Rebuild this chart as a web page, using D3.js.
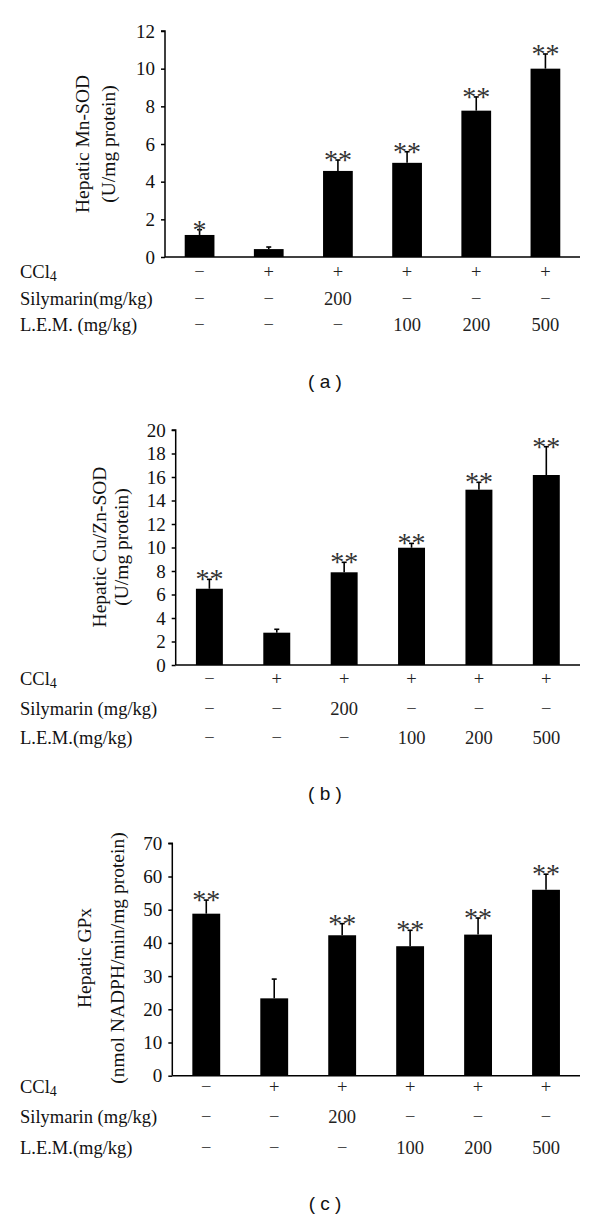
<!DOCTYPE html>
<html>
<head>
<meta charset="utf-8">
<script src="https://cdn.jsdelivr.net/npm/d3@7/dist/d3.min.js"></script>
<style>
  html, body { margin: 0; padding: 0; background: #fff; }
  svg { display: block; }
  .serif { font-family: "Liberation Serif", "Times New Roman", serif; }
</style>
</head>
<body>
<svg id="chart" width="600" height="1219"></svg>
<script>
// ---------------- data ----------------
const groups = ["G1", "G2", "G3", "G4", "G5", "G6"];
const ccl4Row = ["−", "+", "+", "+", "+", "+"];
const silymarinRow = ["−", "−", "200", "−", "−", "−"];
const lemRow = ["−", "−", "−", "100", "200", "500"];

const mnSOD = [1.17, 0.42, 4.57, 5.0, 7.77, 10.0];
const mnSODErr = [0.28, 0.11, 0.58, 0.59, 0.73, 0.78];
const mnSODSig = ["*", "", "**", "**", "**", "**"];
const mnTicks = [0, 2, 4, 6, 8, 10, 12];

const cuZnSOD = [6.49, 2.75, 7.89, 9.98, 14.92, 16.17];
const cuZnSODErr = [0.8, 0.29, 0.85, 0.37, 0.63, 2.41];
const cuZnSODSig = ["**", "", "**", "**", "**", "**"];
const cuTicks = [0, 2, 4, 6, 8, 10, 12, 14, 16, 18, 20];

const gpx = [48.8, 23.3, 42.3, 39.0, 42.5, 56.0];
const gpxErr = [4.1, 5.8, 3.5, 4.8, 5.0, 4.7];
const gpxSig = ["**", "", "**", "**", "**", "**"];
const gpxTicks = [0, 10, 20, 30, 40, 50, 60, 70];

// ---------------- drawing ----------------
const svg = d3.select("#chart");
svg.append("rect").attr("width", 600).attr("height", 1219).attr("fill", "#fff");

function panel(cfg) {
  const g = svg.append("g");
  const x = d3.scaleBand().domain(groups).range([cfg.x0, 580])
    .paddingInner(cfg.pad).paddingOuter(cfg.pad / 2);
  const y = d3.scaleLinear().domain([0, cfg.max]).range([cfg.yBottom, cfg.yTop]);

  // bars
  g.selectAll("rect.bar").data(cfg.values).enter().append("rect")
    .attr("x", (d, i) => x(groups[i]))
    .attr("width", x.bandwidth())
    .attr("y", d => y(d))
    .attr("height", d => y(0) - y(d))
    .attr("fill", "#000");

  // error bars
  const cx = i => x(groups[i]) + x.bandwidth() / 2;
  g.selectAll("line.err").data(cfg.values).enter().append("line")
    .attr("x1", (d, i) => cx(i)).attr("x2", (d, i) => cx(i))
    .attr("y1", d => y(d)).attr("y2", (d, i) => y(d + cfg.err[i]))
    .attr("stroke", "#000").attr("stroke-width", 1.6);
  g.selectAll("line.cap").data(cfg.values).enter().append("line")
    .attr("x1", (d, i) => cx(i) - 2.5).attr("x2", (d, i) => cx(i) + 2.5)
    .attr("y1", (d, i) => y(d + cfg.err[i])).attr("y2", (d, i) => y(d + cfg.err[i]))
    .attr("stroke", "#000").attr("stroke-width", 1.6);

  // significance
  g.selectAll("text.sig").data(cfg.values).enter().append("text")
    .attr("class", "serif")
    .attr("x", (d, i) => cx(i))
    .attr("y", (d, i) => y(d + cfg.err[i]) + 9)
    .attr("text-anchor", "middle")
    .attr("font-size", 28)
    .attr("fill", "#333")
    .text((d, i) => cfg.sig[i]);

  // y axis
  const yAxis = d3.axisLeft(y).tickValues(cfg.ticks).tickSize(4).tickPadding(6)
    .tickFormat(d3.format("d"));
  const ya = g.append("g").attr("transform", `translate(${cfg.x0},0)`).call(yAxis);
  ya.select(".domain").attr("stroke", "#000").attr("stroke-width", 1.5)
    .attr("d", `M-4,${cfg.yTop}H0V${cfg.yBottom}`);
  ya.selectAll(".tick line").attr("stroke", "#000").attr("stroke-width", 1.5);
  ya.selectAll(".tick text").attr("class", "serif").attr("font-size", 19)
    .attr("fill", "#111").attr("font-family", null);

  // x axis baseline
  const xAxis = d3.axisBottom(x).tickSize(0).tickFormat("");
  const xa = g.append("g").attr("transform", `translate(0,${cfg.yBottom})`).call(xAxis);
  xa.select(".domain").attr("stroke", "#000").attr("stroke-width", 1.5)
    .attr("d", `M${cfg.x0},0H580`);

  // y title
  const tg = g.append("g").attr("transform", `translate(${cfg.titleX},${cfg.titleY}) rotate(-90)`);
  tg.append("text").attr("class", "serif").attr("text-anchor", "middle")
    .attr("font-size", 19.5).attr("fill", "#111").attr("y", 0).text(cfg.title1);
  tg.append("text").attr("class", "serif").attr("text-anchor", "middle")
    .attr("font-size", 19.5).attr("fill", "#111").attr("y", cfg.titleGap).text(cfg.title2);

  // treatment rows
  const rows = [
    { label: null, vals: ccl4Row, y: cfg.rowY[0] },
    { label: cfg.silyLabel, vals: silymarinRow, y: cfg.rowY[1] },
    { label: cfg.lemLabel, vals: lemRow, y: cfg.rowY[2] }
  ];
  rows.forEach((r, ri) => {
    const t = g.append("text").attr("class", "serif").attr("x", 20).attr("y", r.y)
      .attr("font-size", 18.5).attr("fill", "#111");
    if (ri === 0) {
      t.append("tspan").text("CCl");
      t.append("tspan").attr("font-size", 14).attr("dy", 3).text("4");
    } else {
      t.text(r.label);
    }
    g.selectAll(null).data(r.vals).enter().append("text")
      .attr("class", "serif")
      .attr("x", (d, i) => cx(i)).attr("y", r.y)
      .attr("text-anchor", "middle").attr("font-size", 18.5).attr("fill", "#222")
      .text(d => d);
  });

  // panel letter
  g.append("text").attr("x", 325).attr("y", cfg.letterY)
    .attr("text-anchor", "middle")
    .attr("font-family", "'Liberation Sans', Arial, sans-serif")
    .attr("font-size", 19).attr("fill", "#111")
    .text(cfg.letter);
}

panel({
  values: mnSOD, err: mnSODErr, sig: mnSODSig, ticks: mnTicks, max: 12,
  x0: 165, yTop: 31, yBottom: 257, pad: 0.57,
  title1: "Hepatic Mn-SOD", title2: "(U/mg protein)", titleX: 89, titleY: 144, titleGap: 26,
  rowY: [278, 305, 331],
  silyLabel: "Silymarin(mg/kg)", lemLabel: "L.E.M. (mg/kg)",
  letter: "( a )", letterY: 388
});

panel({
  values: cuZnSOD, err: cuZnSODErr, sig: cuZnSODSig, ticks: cuTicks, max: 20,
  x0: 175.7, yTop: 430, yBottom: 665, pad: 0.6,
  title1: "Hepatic Cu/Zn-SOD", title2: "(U/mg protein)", titleX: 106, titleY: 547, titleGap: 22,
  rowY: [685, 715, 744],
  silyLabel: "Silymarin (mg/kg)", lemLabel: "L.E.M.(mg/kg)",
  letter: "( b )", letterY: 800
});

panel({
  values: gpx, err: gpxErr, sig: gpxSig, ticks: gpxTicks, max: 70,
  x0: 172.3, yTop: 843.3, yBottom: 1075.7, pad: 0.59,
  title1: "Hepatic GPx", title2: "(nmol NADPH/min/mg protein)", titleX: 91, titleY: 958, titleGap: 33,
  rowY: [1093, 1123, 1154],
  silyLabel: "Silymarin (mg/kg)", lemLabel: "L.E.M.(mg/kg)",
  letter: "( c )", letterY: 1210
});
</script>
</body>
</html>
